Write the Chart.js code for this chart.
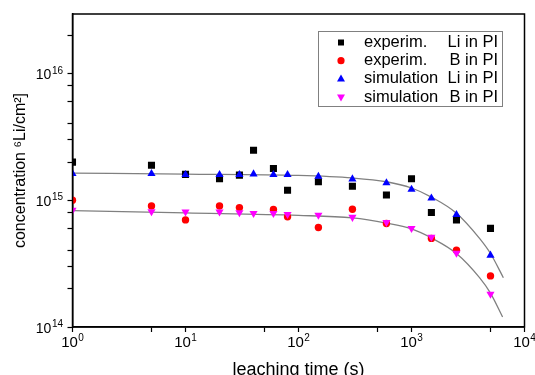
<!DOCTYPE html>
<html>
<head>
<meta charset="utf-8">
<script src="https://cdn.jsdelivr.net/npm/chart.js@4.4.1/dist/chart.umd.min.js"></script>
<style>
  html, body { margin: 0; padding: 0; background: #fff; }
  #wrap { width: 535px; height: 375px; }
</style>
</head>
<body>
<div id="wrap"><canvas id="chart" width="535" height="375"></canvas></div>
<script>
// valeurs (temps en s, concentration en at/cm2)
const expLiTime = [1, 5, 10, 20, 30, 40, 60, 80, 150, 300, 600, 1000, 1500, 2500, 5000];
const expLiConc = [2.0e15, 1.89e15, 1.6e15, 1.48e15, 1.58e15, 2.48e15, 1.78e15, 1.2e15, 1.4e15, 1.29e15, 1.1e15, 1.48e15, 8.0e14, 7.0e14, 6.0e14];

const expBTime = [1, 5, 10, 20, 30, 60, 80, 150, 300, 600, 1500, 2500, 5000];
const expBConc = [1.0e15, 9.0e14, 7.0e14, 9.0e14, 8.75e14, 8.45e14, 7.4e14, 6.1e14, 8.5e14, 6.55e14, 5.0e14, 4.03e14, 2.53e14];

const simLiTime = [1, 5, 10, 20, 30, 40, 60, 80, 150, 300, 600, 1000, 1500, 2500, 5000];
const simLiConc = [1.62e15, 1.62e15, 1.59e15, 1.59e15, 1.59e15, 1.61e15, 1.59e15, 1.59e15, 1.54e15, 1.47e15, 1.37e15, 1.22e15, 1.04e15, 7.7e14, 3.68e14];

const simBTime = [1, 5, 10, 20, 30, 40, 60, 80, 150, 300, 600, 1000, 1500, 2500, 5000];
const simBConc = [8.35e14, 8.15e14, 8.1e14, 8.1e14, 8.0e14, 7.9e14, 7.9e14, 7.75e14, 7.65e14, 7.35e14, 6.7e14, 6.0e14, 5.13e14, 3.83e14, 1.82e14];

// courbes grises (fit)
const fitLiTime = [1, 10, 100, 300, 600, 1000, 1500, 2500, 4000, 5000, 6500];
const fitLiConc = [1.64e15, 1.61e15, 1.57e15, 1.5e15, 1.4e15, 1.25e15, 1.06e15, 7.9e14, 5.0e14, 3.8e14, 2.45e14];
const fitBTime = [1, 10, 100, 300, 600, 1000, 1500, 2500, 4000, 5000, 6400];
const fitBConc = [8.3e14, 7.95e14, 7.6e14, 7.25e14, 6.6e14, 5.95e14, 5.05e14, 3.8e14, 2.45e14, 1.85e14, 1.2e14];

// ticks
const xDecades = [1, 10, 100, 1000, 10000];
const xMinor = [5, 50, 500, 5000];
const yDecades = [1e14, 1e15, 1e16];
const yMinor = [2e14, 3e14, 4e14, 6e14, 8e14, 2e15, 3e15, 4e15, 6e15, 8e15, 2e16];

const legendWord = ['experim.', 'experim.', 'simulation', 'simulation'];
const legendSpecies = ['Li in PI', 'B in PI', 'Li in PI', 'B in PI'];
const seriesColors = ['#000000', '#ff0000', '#0000ff', '#ff00ff'];

const FONT = '"Liberation Sans", Arial, sans-serif';

function pts(xs, ys) { return xs.map((x, i) => ({ x: x, y: ys[i] })); }

// dessine "10" + exposant
function powLabel(ctx, x, base, exp, size, supSize, align) {
  ctx.font = size + 'px ' + FONT;
  const wb = ctx.measureText('10').width;
  ctx.font = supSize + 'px ' + FONT;
  const we = ctx.measureText(exp).width;
  let x0 = align === 'right' ? x - wb - we - 0.5 : x - (wb + we + 0.5) / 2;
  ctx.textAlign = 'left';
  ctx.textBaseline = 'alphabetic';
  ctx.font = size + 'px ' + FONT;
  ctx.fillText('10', x0, base);
  ctx.font = supSize + 'px ' + FONT;
  ctx.fillText(exp, x0 + wb + 0.5, base - 5.5);
}

function marker(ctx, i, x, y) {
  ctx.fillStyle = seriesColors[i];
  ctx.beginPath();
  if (i === 0) { ctx.rect(x - 3, y - 3, 6, 6); }
  else if (i === 1) { ctx.arc(x, y, 3.6, 0, Math.PI * 2); }
  else if (i === 2) { ctx.moveTo(x, y - 4.5); ctx.lineTo(x + 4, y + 2.5); ctx.lineTo(x - 4, y + 2.5); ctx.closePath(); }
  else { ctx.moveTo(x, y + 4.5); ctx.lineTo(x + 4, y - 2.5); ctx.lineTo(x - 4, y - 2.5); ctx.closePath(); }
  ctx.fill();
}

const decor = {
  id: 'decor',
  afterDraw(chart) {
    const ctx = chart.ctx;
    const a = chart.chartArea;
    const sx = chart.scales.x, sy = chart.scales.y;
    ctx.save();
    // cadre
    ctx.strokeStyle = '#000';
    ctx.lineWidth = 1.5;
    ctx.strokeRect(a.left, a.top, a.right - a.left, a.bottom - a.top);
    // labels des axes
    ctx.fillStyle = '#000';
    xDecades.forEach(v => {
      powLabel(ctx, sx.getPixelForValue(v), a.bottom + 19.5, String(Math.round(Math.log10(v))), 15, 10, 'center');
    });
    yDecades.forEach(v => {
      powLabel(ctx, a.left - 9.5, sy.getPixelForValue(v) + 5.5, String(Math.round(Math.log10(v))), 14, 10, 'right');
    });
    // legende
    ctx.strokeStyle = '#808080';
    ctx.lineWidth = 1;
    ctx.strokeRect(318.5, 31.5, 184, 75);
    ctx.font = '16.5px ' + FONT;
    ctx.textBaseline = 'middle';
    legendWord.forEach((w, i) => {
      const y = 42.5 + i * 18.2;
      marker(ctx, i, 341, y);
      ctx.fillStyle = '#000';
      ctx.textAlign = 'left';
      ctx.fillText(w, 364, y);
      ctx.textAlign = 'right';
      ctx.fillText(legendSpecies[i], 498, y);
    });
    ctx.restore();
  }
};

const ctx = document.getElementById('chart').getContext('2d');

const chart = new Chart(ctx, {
  type: 'scatter',
  data: {
    datasets: [
      { label: 'fit Li', data: pts(fitLiTime, fitLiConc), showLine: true, pointRadius: 0,
        borderColor: '#808080', borderWidth: 1.3, cubicInterpolationMode: 'monotone', order: 6 },
      { label: 'fit B', data: pts(fitBTime, fitBConc), showLine: true, pointRadius: 0,
        borderColor: '#808080', borderWidth: 1.3, cubicInterpolationMode: 'monotone', order: 5 },
      { label: legendWord[0] + ' ' + legendSpecies[0], data: pts(expLiTime, expLiConc), pointStyle: 'rect',
        pointRadius: 5, backgroundColor: seriesColors[0], borderWidth: 0, order: 4 },
      { label: legendWord[1] + ' ' + legendSpecies[1], data: pts(expBTime, expBConc), pointStyle: 'circle',
        pointRadius: 3.7, backgroundColor: seriesColors[1], borderWidth: 0, order: 3 },
      { label: legendWord[2] + ' ' + legendSpecies[2], data: pts(simLiTime, simLiConc), pointStyle: 'triangle',
        pointRadius: 4.7, backgroundColor: seriesColors[2], borderWidth: 0, order: 2 },
      { label: legendWord[3] + ' ' + legendSpecies[3], data: pts(simBTime, simBConc), pointStyle: 'triangle',
        pointRotation: 180, pointRadius: 4.7, backgroundColor: seriesColors[3], borderWidth: 0, order: 1 }
    ]
  },
  options: {
    responsive: false,
    animation: false,
    layout: { padding: { top: 14, right: 10.5, left: 0, bottom: 0 } },
    plugins: { legend: { display: false }, tooltip: { enabled: false } },
    scales: {
      x: {
        type: 'logarithmic', min: 1, max: 10000,
        afterBuildTicks: s => { s.ticks = xDecades.concat(xMinor).sort((p, q) => p - q).map(v => ({ value: v })); },
        afterFit: s => { s.height = 48; },
        ticks: { display: false },
        grid: { drawOnChartArea: false, drawTicks: true, tickLength: 5, tickColor: '#000', tickWidth: 1.2 },
        border: { display: true, color: '#000', width: 1.5 },
        title: { display: true, text: 'leaching time (s)', color: '#000',
          font: { family: FONT, size: 18, lineHeight: 0.6 }, padding: { top: 0, bottom: 0 } }
      },
      y: {
        type: 'logarithmic', min: 1e14, max: 2.95e16,
        afterBuildTicks: s => { s.ticks = yDecades.concat(yMinor).sort((p, q) => p - q).map(v => ({ value: v })); },
        afterFit: s => { s.width = 72.5; },
        ticks: { display: false },
        grid: { drawOnChartArea: false, drawTicks: true, tickLength: 5, tickColor: '#000', tickWidth: 1.2 },
        border: { display: true, color: '#000', width: 1.5 },
        title: { display: true, text: 'concentration \u2076Li/cm\u00b2]', color: '#000',
          font: { family: FONT, size: 16, lineHeight: 1.2 }, padding: { top: 11.4, bottom: 0 } }
      }
    }
  },
  plugins: [decor]
});
</script>
</body>
</html>
